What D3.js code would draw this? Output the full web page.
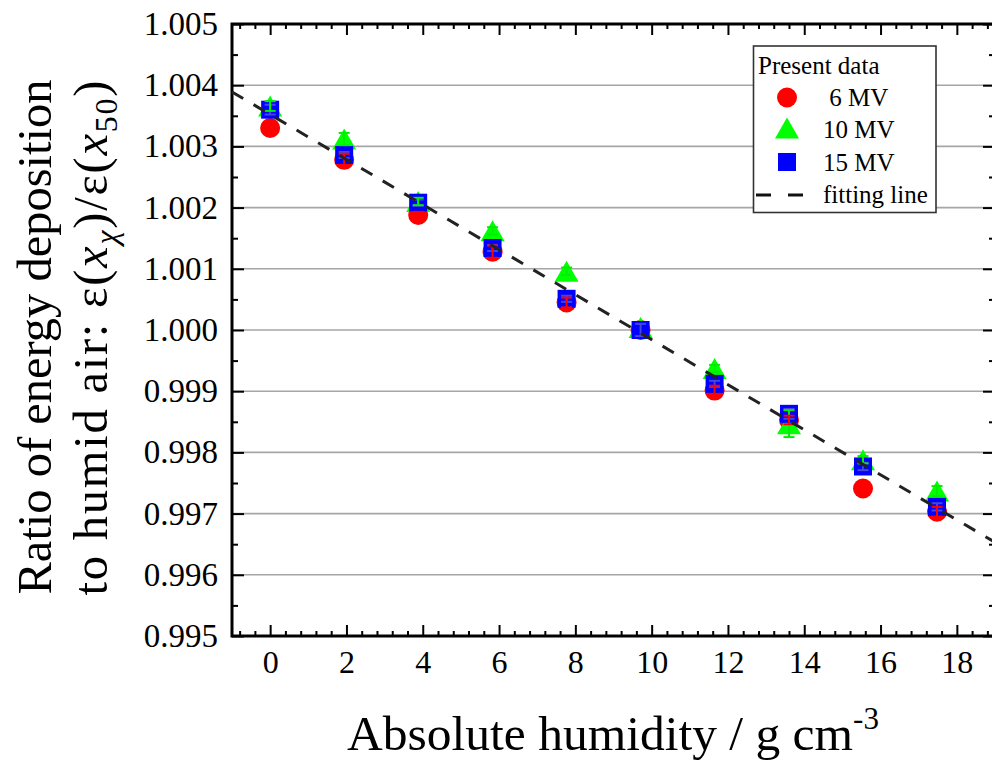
<!DOCTYPE html>
<html>
<head>
<meta charset="utf-8">
<script src="https://cdn.jsdelivr.net/npm/d3@7"></script>
<style>
  html, body { margin: 0; padding: 0; background: #fff; }
  svg { display: block; }
  text { font-family: "Liberation Serif", "Times New Roman", "DejaVu Serif", serif; fill: #000; }
</style>
</head>
<body>
<svg id="chart" width="992" height="763"></svg>
<script>
// ---------------- data ----------------
const humidity = [0, 1.94, 3.88, 5.83, 7.77, 9.71, 11.65, 13.6, 15.54, 17.48];
const mv6  = [1.00330, 1.00278, 1.00188, 1.00128, 1.00045, 1.00000, 0.99901, 0.99853, 0.99741, 0.99703];
const mv10 = [1.00366, 1.00312, 1.00210, 1.00162, 1.00096, 1.00004, 0.99937, 0.99847, 0.99788, 0.99737];
const mv15 = [1.00360, 1.00286, 1.00208, 1.00134, 1.00051, 1.00000, 0.99912, 0.99863, 0.99777, 0.99711];
const err6  = [0.00005, 0.00010, 0.00005, 0.00010, 0.00008, 0.00000, 0.00008, 0.00007, 0.00005, 0.00008];
const err10 = [0.00008, 0.00010, 0.00006, 0.00006, 0.00006, 0.00000, 0.00006, 0.00022, 0.00006, 0.00008];
const err15 = [0.00008, 0.00005, 0.00005, 0.00005, 0.00005, 0.00010, 0.00005, 0.00008, 0.00006, 0.00006];
const fitX = [-1, 19];
const fitY = [1.00389, 0.99653];
const xTickLabels = [0, 2, 4, 6, 8, 10, 12, 14, 16, 18];
const yTickLabels = [0.995, 0.996, 0.997, 0.998, 0.999, 1.000, 1.001, 1.002, 1.003, 1.004, 1.005];
const seriesNames = ["6 MV", "10 MV", "15 MV"];
const legendTitle = "Present data";
const fitName = "fitting line";

// ---------------- layout ----------------
const L = 232, R = 995, T = 24, B = 636;
const svg = d3.select("#chart");
const x = d3.scaleLinear().domain([-1, 19]).range([L, R]);
const y = d3.scaleLinear().domain([0.995, 1.005]).range([B, T]);

const colors = ["#ff0000", "#00ff00", "#0000ff"];
const errColors = ["#ff0000", "#00ee00", "#4646dc"];

// gridlines
svg.append("g").selectAll("line")
  .data(yTickLabels.filter(v => v > 0.9951 && v < 1.0049))
  .join("line")
  .attr("x1", L).attr("x2", R)
  .attr("y1", d => y(d)).attr("y2", d => y(d))
  .attr("stroke", "#a6a6a6").attr("stroke-width", 1.6);

// ---------------- axes ----------------
const xMinor = d3.range(-0.8, 19, 0.4).filter(v => Math.abs(v / 2 - Math.round(v / 2)) > 0.01);
const yMinor = d3.range(0.9955, 1.005, 0.001);

function styleAxis(g) {
  g.select(".domain").remove();
  g.selectAll(".tick line").attr("stroke", "#000").attr("stroke-width", 2);
  g.selectAll("text").style("font-family", '"Liberation Serif", "Times New Roman", serif');
}

// bottom
const gxB = svg.append("g").attr("transform", `translate(0,${B})`)
  .call(d3.axisBottom(x).tickValues(xTickLabels).tickSizeInner(-11).tickSizeOuter(0).tickPadding(14).tickFormat(d3.format("d")))
  .call(styleAxis);
gxB.selectAll("text").attr("font-size", 32).attr("fill", "#000");
svg.append("g").attr("transform", `translate(0,${B})`)
  .call(d3.axisBottom(x).tickValues(xMinor).tickSizeInner(-5).tickSizeOuter(0).tickFormat(""))
  .call(styleAxis);
// top
svg.append("g").attr("transform", `translate(0,${T})`)
  .call(d3.axisTop(x).tickValues(xTickLabels).tickSizeInner(-11).tickSizeOuter(0).tickFormat(""))
  .call(styleAxis);
svg.append("g").attr("transform", `translate(0,${T})`)
  .call(d3.axisTop(x).tickValues(xMinor).tickSizeInner(-5).tickSizeOuter(0).tickFormat(""))
  .call(styleAxis);
// left
const gyL = svg.append("g").attr("transform", `translate(${L},0)`)
  .call(d3.axisLeft(y).tickValues(yTickLabels).tickSizeInner(-12).tickSizeOuter(0).tickPadding(14).tickFormat(d3.format(".3f")))
  .call(styleAxis);
gyL.selectAll("text").attr("font-size", 33).attr("fill", "#000");
svg.append("g").attr("transform", `translate(${L},0)`)
  .call(d3.axisLeft(y).tickValues(yMinor).tickSizeInner(-6).tickSizeOuter(0).tickFormat(""))
  .call(styleAxis);
// right
svg.append("g").attr("transform", `translate(${R},0)`)
  .call(d3.axisRight(y).tickValues(yTickLabels).tickSizeInner(-12).tickSizeOuter(0).tickFormat(""))
  .call(styleAxis);
svg.append("g").attr("transform", `translate(${R},0)`)
  .call(d3.axisRight(y).tickValues(yMinor).tickSizeInner(-6).tickSizeOuter(0).tickFormat(""))
  .call(styleAxis);

// frame
svg.append("rect").attr("x", L).attr("y", T).attr("width", R - L).attr("height", B - T)
  .attr("fill", "none").attr("stroke", "#000").attr("stroke-width", 3);

// ---------------- markers ----------------
const allSeries = [mv6, mv10, mv15];
const allErr = [err6, err10, err15];

function drawMarker(g, type, cx, cy, color) {
  if (type === 0) {
    g.append("circle").attr("cx", cx).attr("cy", cy).attr("r", 10).attr("fill", color);
  } else if (type === 1) {
    const w = 24, h = 21;
    g.append("path")
      .attr("d", `M${cx},${cy - h / 2}L${cx + w / 2},${cy + h / 2}L${cx - w / 2},${cy + h / 2}Z`)
      .attr("fill", color);
  } else {
    const s = 18;
    g.append("rect").attr("x", cx - s / 2).attr("y", cy - s / 2).attr("width", s).attr("height", s).attr("fill", color);
  }
}

const gMarks = svg.append("g");
allSeries.forEach((vals, si) => {
  const g = gMarks.append("g");
  vals.forEach((v, i) => drawMarker(g, si, x(humidity[i]), y(v), colors[si]));
});

// error bars (drawn over markers)
[2, 1, 0].forEach(si => {
  const g = svg.append("g").attr("stroke", errColors[si]).attr("stroke-width", 2);
  allSeries[si].forEach((v, i) => {
    const e = allErr[si][i];
    if (e <= 0) return;
    const cx = x(humidity[i]);
    const y1 = y(v + e), y2 = y(v - e);
    g.append("line").attr("x1", cx).attr("x2", cx).attr("y1", y1).attr("y2", y2);
    g.append("line").attr("x1", cx - 5.5).attr("x2", cx + 5.5).attr("y1", y1).attr("y2", y1);
    g.append("line").attr("x1", cx - 5.5).attr("x2", cx + 5.5).attr("y1", y2).attr("y2", y2);
  });
});

// fitting line
svg.append("path")
  .datum(fitX.map((d, i) => [d, fitY[i]]))
  .attr("d", d3.line().x(d => x(d[0])).y(d => y(d[1])))
  .attr("fill", "none").attr("stroke", "#222").attr("stroke-width", 3)
  .attr("stroke-dasharray", "13,12");

// ---------------- legend ----------------
const lg = svg.append("g");
lg.append("rect").attr("x", 753.5).attr("y", 46).attr("width", 182.5).attr("height", 166.5)
  .attr("fill", "#fff").attr("stroke", "#333").attr("stroke-width", 1.6);
lg.append("text").attr("x", 758).attr("y", 74).attr("font-size", 25).text(legendTitle);
const legY = [97.5, 128, 162];
const legBase = [106, 138, 171];
seriesNames.forEach((name, si) => {
  drawMarker(lg, si, 787, legY[si], colors[si]);
  lg.append("text").attr("x", 823).attr("y", legBase[si]).attr("font-size", 25)
    .style("white-space", "pre").text(si === 0 ? " " + name : name);
});
lg.append("line").attr("x1", 756).attr("x2", 804).attr("y1", 195).attr("y2", 195)
  .attr("stroke", "#111").attr("stroke-width", 3).attr("stroke-dasharray", "15,17");
lg.append("text").attr("x", 823).attr("y", 203).attr("font-size", 25).text(fitName);

// ---------------- axis titles ----------------
const xt = svg.append("text").attr("x", 613).attr("y", 750).attr("text-anchor", "middle").attr("font-size", 49.5);
xt.append("tspan").text("Absolute humidity / g cm");
xt.append("tspan").attr("font-size", 31).attr("dy", -21).text("-3");

svg.append("text").attr("transform", "translate(51,337) rotate(-90)")
  .attr("text-anchor", "middle").attr("font-size", 48.5).text("Ratio of energy deposition");
const yt2 = svg.append("text").attr("transform", "translate(107,338) rotate(-90)")
  .attr("text-anchor", "middle").attr("font-size", 48.5)
  .attr("textLength", 515).attr("lengthAdjust", "spacing");
yt2.append("tspan").text("to humid air: ε(");
yt2.append("tspan").attr("font-style", "italic").text("x");
yt2.append("tspan").attr("font-style", "italic").attr("font-size", 32).attr("dy", 10).text("χ");
yt2.append("tspan").attr("dy", -10).text(")/ε(");
yt2.append("tspan").attr("font-style", "italic").text("x");
yt2.append("tspan").attr("font-size", 32).attr("dy", 10).text("50");
yt2.append("tspan").attr("dy", -10).text(")");
</script>
</body>
</html>
